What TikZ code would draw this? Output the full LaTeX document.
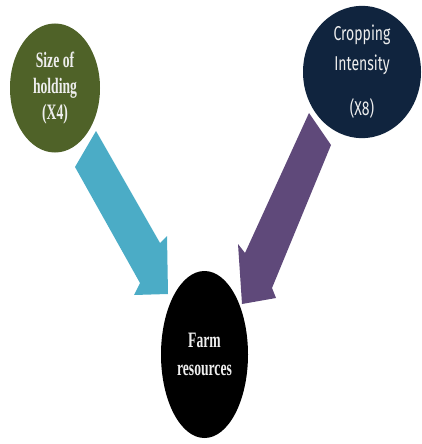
\documentclass[tikz,border=0pt]{standalone}
\usepackage{fontspec}
\setmainfont{Liberation Serif}
\newfontfamily\condserif[FakeStretch=0.62]{Liberation Serif}
\newfontfamily\handsans[FakeStretch=0.70]{Fira Sans}
\usetikzlibrary{shapes.geometric}
\definecolor{olivegreen}{HTML}{4F6228}
\definecolor{navyblue}{HTML}{10243E}
\definecolor{arrowcyan}{HTML}{4BACC6}
\definecolor{arrowpurple}{HTML}{5F497A}
\definecolor{softwhite}{HTML}{EEEEEE}
\tikzset{
  blob/.style={ellipse, inner sep=0pt, text=softwhite, align=center},
  serifbold/.style={font=\condserif\bfseries\fontsize{22}{26}\selectfont},
  handfont/.style={font=\handsans\fontsize{20}{30}\selectfont},
  blockarrow/.style={draw=none}
}
\begin{document}
\begin{tikzpicture}[x=1pt,y=-1pt]
\useasboundingbox (0,0) rectangle (421,444);
% block arrows (behind the ellipses)
\fill[arrowcyan, blockarrow] (96,131) -- (160,243) -- (167,236) -- (168,294)
  -- (134,295) -- (140,283) -- (75,167) -- cycle;
\fill[arrowpurple, blockarrow] (309,113) -- (331,145) -- (272,288) -- (276,298)
  -- (242,304) -- (238,244) -- (245,253) -- cycle;
% ellipses
\node[blob, fill=olivegreen, minimum width=90pt, minimum height=129pt, serifbold]
  (size) at (55,88) {Size of\\holding\\(X4)};
\node[blob, fill=navyblue, minimum width=118pt, minimum height=132pt, handfont]
  (crop) at (362,72) {Cropping\\[0pt]Intensity\\[15pt](X8)};
\node[blob, fill=black, minimum width=87pt, minimum height=167pt, serifbold]
  (farm) at (204.5,354.5) {Farm\\[2pt]resources};
\end{tikzpicture}
\end{document}
